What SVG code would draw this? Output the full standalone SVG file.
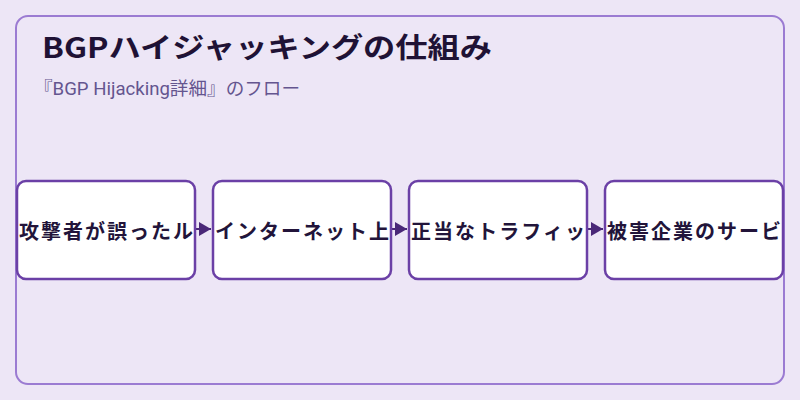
<svg xmlns="http://www.w3.org/2000/svg" width="800" height="400" viewBox="0 0 800 400">
<defs>
<style>
.node rect{fill:#ffffff;stroke:#6b40a6;stroke-width:2.5}
.node text{font-family:"Noto Sans CJK JP","Noto Sans",sans-serif;font-size:20px;font-weight:bold;fill:#22143a;text-anchor:middle;dominant-baseline:central}
.conn line{stroke:#4a2878;stroke-width:2}
</style>
<marker id="arr" viewBox="0 0 12 14" refX="12" refY="7" markerWidth="12" markerHeight="14" markerUnits="userSpaceOnUse" orient="auto">
<path d="M0,0 L12,7 L0,14 z" fill="#4a2878"/>
</marker>
</defs>
<rect width="800" height="400" fill="#ede6f6"/>
<rect x="16" y="16" width="768" height="368" rx="12" fill="#ede6f6" stroke="#9b7bd2" stroke-width="2"/>
<text x="42" y="58" font-family="Noto Sans CJK JP, Noto Sans, sans-serif" font-size="28" font-weight="bold" fill="#1f1235" textLength="450" lengthAdjust="spacingAndGlyphs">BGPハイジャッキングの仕組み</text>
<text x="34" y="95" font-family="Roboto, Noto Sans CJK JP, sans-serif" font-size="18" fill="#64558f" textLength="266" lengthAdjust="spacingAndGlyphs">『BGP Hijacking詳細』のフロー</text>
<g id="connectors" class="conn">
<line x1="196" y1="229" x2="211" y2="229" marker-end="url(#arr)"/>
<line x1="392" y1="229" x2="407" y2="229" marker-end="url(#arr)"/>
<line x1="588" y1="229" x2="603" y2="229" marker-end="url(#arr)"/>
</g>
<g id="node1" class="node"><rect x="17" y="181" width="178" height="98" rx="9"/><text x="106" y="230" textLength="174" lengthAdjust="spacing">攻撃者が誤ったル</text></g>
<g id="node2" class="node"><rect x="213" y="181" width="178" height="98" rx="9"/><text x="302" y="230" textLength="174" lengthAdjust="spacing">インターネット上</text></g>
<g id="node3" class="node"><rect x="409" y="181" width="178" height="98" rx="9"/><text x="498" y="230" textLength="174" lengthAdjust="spacing">正当なトラフィッ</text></g>
<g id="node4" class="node"><rect x="605" y="181" width="178" height="98" rx="9"/><text x="694" y="230" textLength="174" lengthAdjust="spacing">被害企業のサービ</text></g>
</svg>
